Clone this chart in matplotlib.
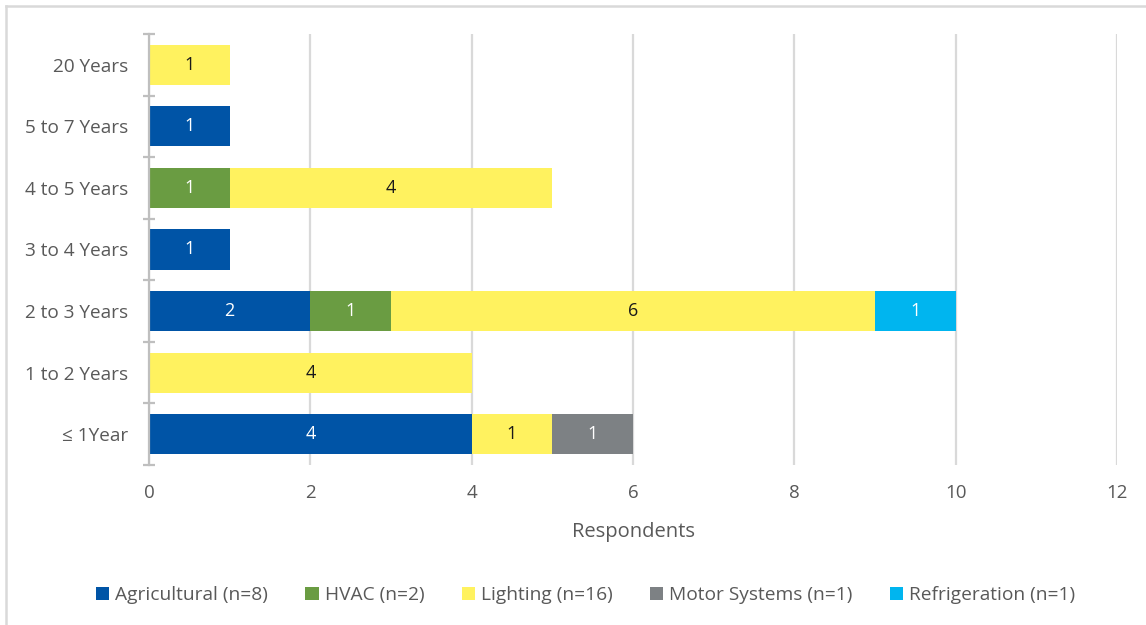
import matplotlib
matplotlib.use("Agg")
import matplotlib.pyplot as plt
from matplotlib.lines import Line2D
from matplotlib.patches import Patch
import numpy as np

plt.rcParams['font.family'] = ['Open Sans', 'DejaVu Sans']

categories = ["\u2264 1Year", "1 to 2 Years", "2 to 3 Years", "3 to 4 Years",
              "4 to 5 Years", "5 to 7 Years", "20 Years"]
series_names = ["Agricultural (n=8)", "HVAC (n=2)", "Lighting (n=16)",
                "Motor Systems (n=1)", "Refrigeration (n=1)"]
agricultural = [4, 0, 2, 1, 0, 1, 0]
hvac = [0, 0, 1, 0, 1, 0, 0]
lighting = [1, 4, 6, 0, 4, 0, 1]
motor_systems = [1, 0, 0, 0, 0, 0, 0]
refrigeration = [0, 0, 1, 0, 0, 0, 0]
x_ticks = [0, 2, 4, 6, 8, 10, 12]

series = [agricultural, hvac, lighting, motor_systems, refrigeration]
colors = ["#0054A6", "#6A9C42", "#FFF25F", "#7D8184", "#00B5EF"]
text_colors = ["white", "white", "#1a1a1a", "white", "white"]

fig = plt.figure(figsize=(11.46, 6.25), dpi=100)
ax = fig.add_axes([149 / 1146, 1 - 465 / 625, (1117 - 149) / 1146, (465 - 34) / 625])

y = np.arange(len(categories))
left = np.zeros(len(categories))
for vals, c, tc in zip(series, colors, text_colors):
    vals = np.array(vals, dtype=float)
    bars = ax.barh(y, vals, left=left, height=0.65, color=c, zorder=3)
    for b, v, l in zip(bars, vals, left):
        if v > 0:
            ax.text(l + v / 2, b.get_y() + b.get_height() / 2, f"{int(v)}",
                    ha="center", va="center", color=tc, fontsize=13, zorder=4)
    left += vals

ax.set_xlim(0, 12)
ax.set_ylim(-0.5, len(categories) - 0.5)
ax.set_xticks(x_ticks)
ax.set_xticklabels([str(t) for t in x_ticks])
ax.set_yticks(y)
ax.set_yticklabels(categories)
ax.set_yticks(np.arange(-0.5, len(categories), 1.0), minor=True)

ax.grid(axis="x", color="#D9D9D9", linewidth=1.6, zorder=0)
ax.set_axisbelow(True)
for s in ["top", "right", "bottom"]:
    ax.spines[s].set_visible(False)
ax.spines["left"].set_color("#BFBFBF")
ax.spines["left"].set_linewidth(1.6)
ax.spines["left"].set_zorder(5)

ax.tick_params(axis="x", length=0, pad=14, labelsize=13.5, labelcolor="#595959")
ax.tick_params(axis="y", which="major", length=0, pad=15, labelsize=13.7, labelcolor="#595959")
ax.tick_params(axis="y", which="minor", length=9, direction="inout", width=1.6, color="#BFBFBF")

ax.set_xlabel("Respondents", fontsize=14.5, color="#595959", labelpad=14)

handles = [Patch(facecolor=c, edgecolor="none") for c in colors]
fig.legend(handles, series_names, loc="center", bbox_to_anchor=(0.511, 1 - 595 / 625),
           ncol=5, frameon=False, fontsize=13.8, labelcolor="#595959",
           handlelength=0.7, handleheight=0.7, handletextpad=0.3, columnspacing=1.95)

# outer chart frame
fig.add_artist(Line2D([6 / 1146, 1.0], [1 - 6 / 625, 1 - 6 / 625],
                      color="#D9D9D9", linewidth=1.8, transform=fig.transFigure))
fig.add_artist(Line2D([6 / 1146, 6 / 1146], [0.0, 1 - 6 / 625],
                      color="#D9D9D9", linewidth=1.8, transform=fig.transFigure))

fig.savefig("out.png", dpi=100)
